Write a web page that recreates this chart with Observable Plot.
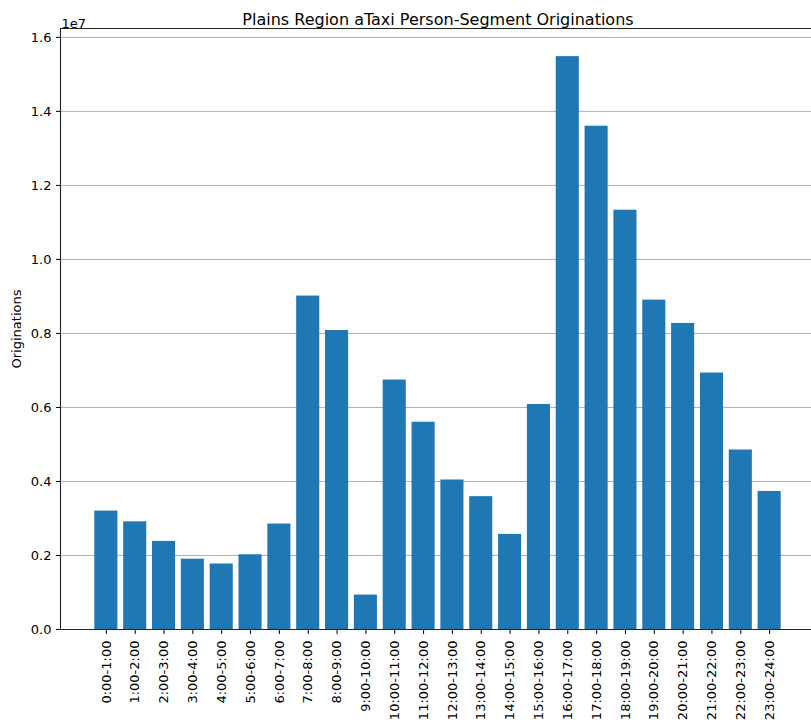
<!DOCTYPE html>
<html><head><meta charset="utf-8">
<script src="https://cdn.jsdelivr.net/npm/d3@7"></script>
<script src="https://cdn.jsdelivr.net/npm/@observablehq/plot@0.6"></script>
<style>body{margin:0;background:#fff}</style>
</head><body><div id="chart"></div>
<script>
const hours = ["0:00-1:00","1:00-2:00","2:00-3:00","3:00-4:00","4:00-5:00","5:00-6:00","6:00-7:00","7:00-8:00","8:00-9:00","9:00-10:00","10:00-11:00","11:00-12:00","12:00-13:00","13:00-14:00","14:00-15:00","15:00-16:00","16:00-17:00","17:00-18:00","18:00-19:00","19:00-20:00","20:00-21:00","21:00-22:00","22:00-23:00","23:00-24:00"];
const originations = [3200000,2910000,2380000,1900000,1770000,2020000,2850000,9010000,8080000,930000,6740000,5600000,4040000,3590000,2570000,6080000,15480000,13600000,11330000,8900000,8270000,6930000,4850000,3730000];
const yTicks = [0,2e6,4e6,6e6,8e6,1e7,1.2e7,1.4e7,1.6e7];
const title = "Plains Region aTaxi Person-Segment Originations";
const yLabel = "Originations";
const offsetLabel = "1e7";
const yMax = 1.624e7;

const data = hours.map((h, i) => ({hour: h, value: originations[i]}));
const font = "DejaVu Sans, sans-serif";

const chart = Plot.plot({
  width: 811,
  height: 727,
  marginLeft: 60,
  marginRight: 0,
  marginTop: 28,
  marginBottom: 98,
  style: {fontFamily: font, fontSize: "13px", color: "#000", background: "#fff"},
  x: {type: "band", domain: hours, range: [60, 815], paddingInner: 0.2, paddingOuter: 1.19, align: 0.5, round: false},
  y: {domain: [0, yMax]},
  marks: [
    Plot.gridY(yTicks, {stroke: "#b0b0b0", strokeOpacity: 1, strokeWidth: 1}),
    Plot.barY(data, {x: "hour", y: "value", fill: "#1f77b4"}),
    Plot.axisY({ticks: yTicks, tickFormat: d => (d / 1e7).toFixed(1), tickSize: 4, tickPadding: 5, label: null, fontSize: 13}),
    Plot.axisX({tickRotate: -90, tickSize: 5, tickPadding: 6, label: null, fontSize: 13}),
    Plot.ruleY([0], {stroke: "#222", strokeWidth: 1.1}),
    Plot.ruleY([yMax], {stroke: "#222", strokeWidth: 1.1}),
    Plot.frame({anchor: "left", stroke: "#222", strokeWidth: 1.1}),
    Plot.text([title], {frameAnchor: "top", dy: -15, dx: 2, fontSize: 16, textAnchor: "middle", fill: "#000"}),
    Plot.text([offsetLabel], {frameAnchor: "top-left", dy: -10, dx: 1, fontSize: 13, textAnchor: "start", fill: "#000"}),
    Plot.text([yLabel], {frameAnchor: "left", dx: -44, rotate: -90, fontSize: 13, textAnchor: "middle", fill: "#000"})
  ]
});
document.getElementById("chart").appendChild(chart);
</script>
</body></html>
